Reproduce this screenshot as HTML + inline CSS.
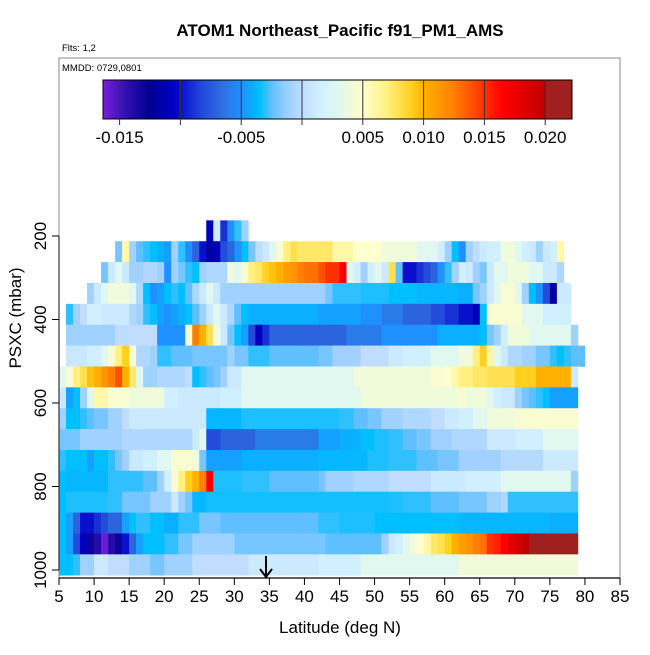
<!DOCTYPE html>
<html><head><meta charset="utf-8"><style>
body{margin:0;background:#fff;}
svg text{font-family:"Liberation Sans",sans-serif;}
</style></head><body>
<svg id="chart" width="650" height="650" viewBox="0 0 650 650" xmlns="http://www.w3.org/2000/svg">
<rect width="650" height="650" fill="#fff"/>
<text x="340" y="36" font-size="17" font-weight="bold" text-anchor="middle">ATOM1 Northeast_Pacific f91_PM1_AMS</text>
<text x="62" y="51" font-size="9.5">Flts: 1,2</text>
<rect x="59" y="58" width="561" height="520" fill="none" stroke="#888" stroke-width="1"/>
<text x="62" y="71" font-size="9.5">MMDD: 0729,0801</text>
<g id="cells"></g>
<g id="cbar"></g>
<g id="axes"></g>
<text x="340" y="633" font-size="17" text-anchor="middle">Latitude (deg N)</text>
<text transform="translate(21,318) rotate(-90)" font-size="17" text-anchor="middle">PSXC (mbar)</text>
<g>
<line x1="266" y1="556" x2="266" y2="576" stroke="#000" stroke-width="2"/>
<path d="M260,569 L266,577 L272,569" fill="none" stroke="#000" stroke-width="2"/>
</g>
</svg>
<script>
// row pressure centers (mbar)
const pressures=[187.5,237.5,287.5,337.5,387.5,437.5,487.5,537.5,587.5,637.5,687.5,737.5,787.5,837.5,887.5,937.5,987.5];
// each row: runs [latStart, latEnd, value]
const row0=[[26,27,-0.011],[27,28,0.001],[28,29,-0.009],[29,30,-0.005],[30,31,-0.003],[31,32,-0.001]];
const row1=[[13,14,-0.002],[14,15,0.006],[15,16,-0.001],[16,17,-0.0025],[17,18,-0.003],[18,19,-0.0035],[19,20,-0.004],[20,21,-0.0045],[21,22,-0.001],[22,23,-0.003],[23,24,-0.005],[24,25,-0.007],[25,26,-0.010],[26,27,-0.012],[27,28,-0.011],[28,29,-0.008],[29,30,-0.007],[30,31,-0.005],[31,32,-0.0035],[32,33,-0.002],[33,34,0],[34,35,0.001],[35,36,0.003],[36,37,0.0045],[37,38,0.007],[38,39,0.008],[39,44,0.0075],[44,47,0.006],[47,51,0.005],[51,56,0.004],[56,59,0.003],[59,60,0.0015],[60,61,-0.001],[61,62,-0.0035],[62,63,-0.005],[63,64,-0.001],[64,65,0],[65,66,0.001],[66,68,0.0015],[68,70,0.004],[70,71,0.003],[71,72,0.0015],[72,73,0.001],[73,74,-0.001],[74,75,0.001],[75,76,0.0015],[76,77,0.006]];
const row2=[[11,12,-0.002],[12,13,0.001],[13,14,0.003],[14,15,0.001],[15,17,-0.001],[17,19,-0.0005],[19,20,-0.001],[20,21,-0.005],[21,22,-0.001],[22,23,-0.002],[23,24,-0.003],[24,25,-0.0035],[25,26,-0.001],[26,29,-0.0005],[29,30,0.004],[30,31,0.003],[31,32,0.0045],[32,33,0.007],[33,34,0.0075],[34,35,0.009],[35,36,0.0095],[36,37,0.010],[37,38,0.011],[38,39,0.0115],[39,40,0.0125],[40,42,0.013],[42,43,0.014],[43,45,0.015],[45,46,0.0165],[46,47,0.003],[47,48,0.0015],[48,49,-0.001],[49,50,0.0015],[50,51,0.003],[51,52,0.001],[52,53,0.008],[53,54,-0.0025],[54,56,-0.010],[56,57,-0.009],[57,58,-0.008],[58,59,-0.007],[59,60,-0.005],[60,61,-0.003],[61,62,-0.001],[62,63,0.0015],[63,64,0.001],[64,65,-0.001],[65,66,-0.002],[66,67,0.001],[67,69,0.003],[69,72,0.004],[72,74,0.003],[74,76,0.001],[76,77,-0.0005]];
const row3=[[9,10,-0.001],[10,11,0.001],[11,12,0.003],[12,15,0.004],[15,16,0.003],[16,17,-0.0005],[17,18,-0.0035],[18,19,-0.005],[19,20,-0.0045],[20,21,-0.0035],[21,22,-0.003],[22,23,-0.0035],[23,24,-0.0025],[24,25,-0.0005],[25,26,0.001],[26,27,0.003],[27,28,0.001],[28,43,-0.001],[43,44,-0.002],[44,48,-0.003],[48,52,-0.0032],[52,56,-0.0035],[56,62,-0.0038],[62,64,-0.004],[64,65,-0.002],[65,66,-0.001],[66,67,0.001],[67,68,0.003],[68,70,0.0045],[70,71,0.003],[71,72,-0.001],[72,73,-0.0035],[73,74,-0.005],[74,75,-0.008],[75,76,-0.012],[76,78,0.001]];
const row4=[[6,7,-0.003],[7,8,-0.001],[8,9,0],[9,11,0.0015],[11,15,0.001],[15,16,-0.0005],[16,17,-0.001],[17,18,-0.003],[18,19,-0.0035],[19,20,-0.0045],[20,21,-0.005],[21,22,-0.0045],[22,23,-0.004],[23,24,-0.0035],[24,25,-0.0025],[25,26,-0.001],[26,27,0.001],[27,28,0.003],[28,29,0.001],[29,30,-0.0005],[30,31,-0.0025],[31,32,-0.0035],[32,42,-0.004],[42,48,-0.0045],[48,51,-0.005],[51,54,-0.006],[54,58,-0.007],[58,60,-0.008],[60,62,-0.009],[62,64,-0.010],[64,65,-0.011],[65,66,-0.0035],[66,71,0.0045],[71,74,0.003],[74,78,0.0015]];
const row5=[[6,13,-0.001],[13,19,0],[19,23,-0.005],[23,24,0.0045],[24,25,0.0125],[25,26,0.010],[26,27,0.008],[27,28,0.004],[28,29,0.001],[29,30,-0.002],[30,31,-0.0035],[31,32,-0.0045],[32,33,-0.008],[33,34,-0.011],[34,35,-0.009],[35,46,-0.007],[46,51,-0.006],[51,59,-0.005],[59,65,-0.004],[65,66,-0.0035],[66,67,-0.002],[67,68,-0.001],[68,69,0.0015],[69,72,0.004],[72,78,0.003],[78,79,-0.001]];
const row6=[[6,9,0.0008],[9,11,0.0015],[11,12,0.003],[12,13,0.0045],[13,14,0.007],[14,15,0.009],[15,16,0.0045],[16,18,-0.0005],[18,19,-0.001],[19,21,-0.003],[21,24,-0.0025],[24,29,-0.002],[29,30,-0.001],[30,32,-0.002],[32,35,-0.003],[35,42,-0.0025],[42,44,-0.002],[44,48,-0.001],[48,52,0],[52,54,0.001],[54,58,0.0015],[58,62,0.003],[62,64,0.004],[64,65,0.007],[65,66,0.009],[66,67,0.006],[67,68,0.003],[68,69,0.001],[69,71,-0.0005],[71,73,-0.001],[73,75,-0.002],[75,76,-0.003],[76,77,-0.0035],[77,78,-0.003],[78,80,-0.0025]];
const row7=[[5,6,0.003],[6,7,0.0045],[7,8,0.007],[8,9,0.008],[9,10,0.0095],[10,11,0.010],[11,12,0.0115],[12,13,0.0125],[13,14,0.014],[14,15,0.010],[15,16,0.0075],[16,17,0.003],[17,19,-0.001],[19,23,-0.0005],[23,24,0],[24,25,-0.0035],[25,26,-0.003],[26,27,-0.0025],[27,28,-0.002],[28,29,-0.001],[29,31,0.001],[31,47,0.003],[47,58,0.004],[58,60,0.0045],[60,61,0.005],[61,62,0.006],[62,64,0.007],[64,66,0.0075],[66,70,0.008],[70,73,0.009],[73,78,0.010],[78,79,0.001]];
const row8=[[5,6,0.001],[6,7,-0.0045],[7,8,-0.0035],[8,9,-0.001],[9,10,0.003],[10,12,0.006],[12,15,0.0045],[15,20,0.004],[20,22,0.0015],[22,28,0.001],[28,31,0.0015],[31,48,0.003],[48,62,0.004],[62,63,0.0045],[63,66,0.004],[66,67,0.003],[67,68,0.0015],[68,70,0.001],[70,71,-0.001],[71,72,-0.002],[72,73,-0.0025],[73,74,-0.003],[74,75,-0.0035],[75,79,-0.0045]];
const row9=[[5,6,-0.001],[6,8,-0.0035],[8,9,-0.003],[9,10,-0.0025],[10,12,-0.002],[12,14,-0.001],[14,15,0],[15,26,0.001],[26,31,-0.0038],[31,45,-0.0032],[45,47,-0.003],[47,49,-0.0025],[49,51,-0.002],[51,54,-0.001],[54,58,-0.0005],[58,60,0],[60,62,0.001],[62,64,0.0015],[64,66,0.003],[66,70,0.004],[70,79,0.0045]];
const row10=[[5,8,-0.002],[8,14,-0.001],[14,24,-0.0005],[24,25,0.001],[25,26,0.003],[26,28,-0.008],[28,33,-0.007],[33,42,-0.006],[42,45,-0.0045],[45,48,-0.004],[48,50,-0.0035],[50,52,-0.0032],[52,54,-0.003],[54,56,-0.0025],[56,58,-0.002],[58,61,-0.001],[61,66,-0.0005],[66,70,0.001],[70,74,0.0015],[74,79,0.003]];
const row11=[[5,6,-0.003],[6,9,-0.0035],[9,10,-0.0045],[10,12,-0.0035],[12,13,-0.003],[13,14,-0.002],[14,15,-0.001],[15,17,0.001],[17,19,0.0015],[19,21,0.003],[21,24,0.0045],[24,25,0.004],[25,26,-0.002],[26,31,-0.0045],[31,42,-0.004],[42,49,-0.0038],[49,52,-0.0032],[52,56,-0.003],[56,59,-0.0025],[59,62,-0.002],[62,68,-0.001],[68,74,-0.0003],[74,79,0.001]];
const row12=[[5,6,-0.0035],[6,12,-0.0038],[12,17,-0.003],[17,19,-0.0025],[19,20,-0.001],[20,21,0.0015],[21,22,0.0045],[22,23,0.007],[23,24,0.009],[24,25,0.010],[25,26,0.0125],[26,27,0.0165],[27,31,-0.0032],[31,35,-0.003],[35,42,-0.0025],[42,43,-0.002],[43,47,-0.001],[47,52,-0.0005],[52,58,0],[58,63,0.001],[63,68,0.0015],[68,78,0.003],[78,79,-0.001]];
const row13=[[5,6,-0.0035],[6,12,-0.0032],[12,14,-0.003],[14,18,-0.002],[18,21,-0.001],[21,22,0.001],[22,23,-0.001],[23,24,-0.002],[24,26,-0.0038],[26,52,-0.0033],[52,54,-0.0032],[54,58,-0.003],[58,62,-0.0025],[62,66,-0.002],[66,68,-0.001],[68,69,-0.0005],[69,70,-0.003],[70,79,-0.003]];
const row14=[[5,6,-0.0035],[6,7,-0.0045],[7,8,-0.007],[8,10,-0.010],[10,11,-0.009],[11,12,-0.008],[12,14,-0.007],[14,15,-0.0045],[15,16,-0.0035],[16,18,-0.003],[18,20,-0.0035],[20,22,-0.004],[22,25,-0.003],[25,28,-0.002],[28,42,-0.0025],[42,45,-0.003],[45,50,-0.0032],[50,62,-0.0035],[62,75,-0.0038],[75,79,-0.004]];
const row15=[[5,6,-0.0035],[6,7,-0.0045],[7,8,-0.008],[8,9,-0.011],[9,10,-0.013],[10,11,-0.014],[11,12,-0.016],[12,13,-0.014],[13,14,-0.013],[14,15,-0.010],[15,16,-0.007],[16,17,-0.0045],[17,20,-0.0035],[20,22,-0.003],[22,24,-0.002],[24,30,-0.001],[30,43,-0.002],[43,51,-0.0025],[51,52,-0.001],[52,53,0.001],[53,54,0.0015],[54,55,0.003],[55,56,0.004],[56,57,0.005],[57,58,0.006],[58,59,0.0075],[59,60,0.008],[60,61,0.009],[61,62,0.010],[62,63,0.011],[63,64,0.0115],[64,65,0.0125],[65,66,0.013],[66,67,0.015],[67,68,0.0155],[68,69,0.0165],[69,70,0.018],[70,71,0.019],[71,72,0.020],[72,74,0.0205],[74,79,0.021]];
const row16=[[5,7,-0.0035],[7,8,-0.003],[8,10,-0.001],[10,12,0.001],[12,15,0],[15,18,-0.001],[18,20,-0.002],[20,24,-0.001],[24,32,0],[32,42,0.001],[42,48,0.0015],[48,62,0.003],[62,79,0.004]];
const rows=[row0,row1,row2,row3,row4,row5,row6,row7,row8,row9,row10,row11,row12,row13,row14,row15,row16];
const xTicks=[5,10,15,20,25,30,35,40,45,50,55,60,65,70,75,80,85];
const yTicks=[200,400,600,800,1000];
const cbTicks=[-0.015,-0.010,-0.005,0,0.005,0.010,0.015,0.020];
const cbLabels=["-0.015","","-0.005","","0.005","0.010","0.015","0.020"];

const NS="http://www.w3.org/2000/svg";
const xS=l=>59+(l-5)*(561/80);
const yS=p=>236+(p-200)*0.4175;
const cS=v=>302+v*12160;
const stops=[[-0.0165,"#8020e0"],[-0.0145,"#3010b0"],[-0.0125,"#000090"],[-0.0105,"#0000c8"],[-0.0085,"#2040d8"],[-0.0065,"#3070e0"],[-0.005,"#1e90ff"],[-0.0035,"#00bfff"],[-0.0025,"#60c0ff"],[-0.0015,"#90ccff"],[0,"#c0dcff"],[0.0015,"#d0f0ff"],[0.003,"#e0f8f0"],[0.0045,"#f8fcd0"],[0.005,"#ffffd0"],[0.007,"#fff080"],[0.009,"#ffd020"],[0.010,"#ffb000"],[0.0125,"#ff8000"],[0.015,"#ff3000"],[0.0165,"#ff0000"],[0.020,"#c00000"],[0.0201,"#a02020"],[0.022,"#a02020"]];
function hx(h){return [1,3,5].map(i=>parseInt(h.substr(i,2),16));}
function col(v){
  if(v<=stops[0][0])return stops[0][1];
  for(let i=1;i<stops.length;i++){
    if(v<=stops[i][0]){
      const a=hx(stops[i-1][1]),b=hx(stops[i][1]),t=(v-stops[i-1][0])/(stops[i][0]-stops[i-1][0]);
      return "rgb("+a.map((c,k)=>Math.round(c+(b[k]-c)*t)).join(",")+")";
    }
  }
  return stops[stops.length-1][1];
}
function mk(tag,attrs,parent){const e=document.createElementNS(NS,tag);for(const k in attrs)e.setAttribute(k,attrs[k]);parent.appendChild(e);return e;}

const cells=document.getElementById("cells");
rows.forEach((r,i)=>{
  const p=pressures[i];
  const y0=yS(p-25),y1=yS(p+25);
  r.forEach(run=>{
    const e=mk("rect",{x:xS(run[0]),y:y0,width:xS(run[1])-xS(run[0])+0.3,height:y1-y0+0.3,fill:col(run[2])},cells);
    
    
  });
});

// colorbar
const cb=document.getElementById("cbar");
const cbx0=103,cbx1=572,cby0=80,cby1=119;
for(let x=cbx0;x<cbx1;x++){
  const v=(x+0.5-302)/12160;
  const e=mk("rect",{x:x,y:cby0,width:1.2,height:cby1-cby0,fill:col(v)},cb);
  
  
}
mk("rect",{x:cbx0,y:cby0,width:cbx1-cbx0,height:cby1-cby0,fill:"none",stroke:"#000","stroke-width":1},cb);
cbTicks.forEach((t,i)=>{
  const x=cS(t);
  mk("line",{x1:x,y1:cby0,x2:x,y2:cby1+6,stroke:"#333","stroke-width":1},cb);
  if(cbLabels[i]){
    const tx=mk("text",{x:x,y:143,"font-size":17,"text-anchor":"middle"},cb);
    tx.textContent=cbLabels[i];
    
    
  }
});

// axes
const ax=document.getElementById("axes");
mk("line",{x1:xS(5),y1:578,x2:xS(85),y2:578,stroke:"#000","stroke-width":1.2},ax);
xTicks.forEach(t=>{
  const x=xS(t);
  mk("line",{x1:x,y1:578,x2:x,y2:585,stroke:"#000","stroke-width":1},ax);
  const tx=mk("text",{x:x,y:602,"font-size":17,"text-anchor":"middle"},ax);
  tx.textContent=t;
  
  
});
mk("line",{x1:59,y1:yS(200),x2:59,y2:yS(1000),stroke:"#333","stroke-width":1.2},ax);
yTicks.forEach(t=>{
  const y=yS(t);
  mk("line",{x1:52,y1:y,x2:59,y2:y,stroke:"#000","stroke-width":1},ax);
  const tx=mk("text",{"font-size":17,"text-anchor":"middle",transform:"translate(46,"+y+") rotate(-90)"},ax);
  tx.textContent=t;
  
  
});
</script>
</body></html>
